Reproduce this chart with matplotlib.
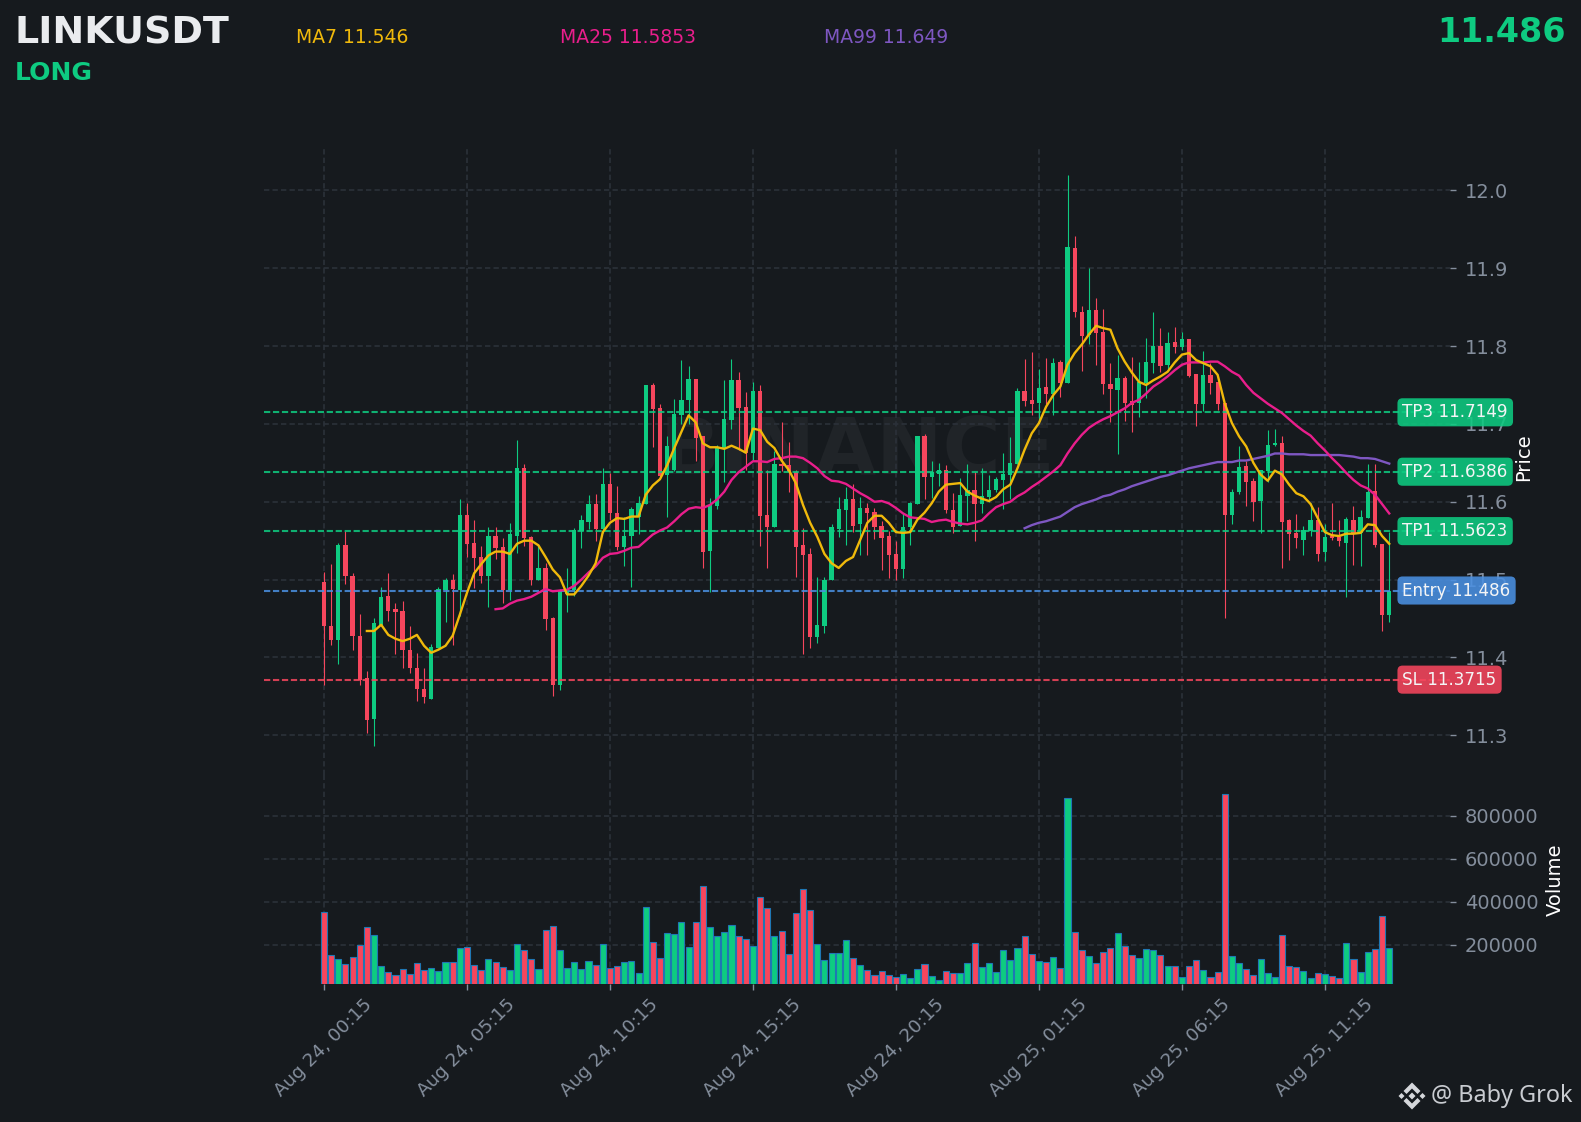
#!/usr/bin/env python3
import matplotlib

matplotlib.use("Agg")
import matplotlib.pyplot as plt  # noqa: E402
from matplotlib.patches import Polygon  # noqa: E402

W, H = 1581, 1122
BG = "#161A1E"
UP = "#0ECB81"
DOWN = "#F6465D"
GRID = "#2B3139"
MUTED = "#848E9C"

opens = [
    11.497, 11.441, 11.423, 11.544, 11.505, 11.428, 11.373, 11.321, 11.442, 11.479,
    11.462, 11.460, 11.410, 11.387, 11.360, 11.347, 11.412, 11.487, 11.499, 11.487,
    11.583, 11.547, 11.529, 11.504, 11.556, 11.542, 11.487, 11.556, 11.644, 11.555,
    11.500, 11.515, 11.451, 11.364, 11.482, 11.487, 11.562, 11.574, 11.597, 11.565,
    11.623, 11.586, 11.542, 11.556, 11.581, 11.597, 11.750, 11.720, 11.635, 11.641,
    11.712, 11.731, 11.758, 11.685, 11.537, 11.594, 11.669, 11.705, 11.756, 11.722,
    11.662, 11.742, 11.583, 11.568, 11.649, 11.647, 11.638, 11.544, 11.533, 11.426,
    11.441, 11.499, 11.565, 11.590, 11.603, 11.571, 11.592, 11.587, 11.569, 11.556,
    11.533, 11.514, 11.567, 11.597, 11.685, 11.632, 11.636, 11.641, 11.590, 11.569,
    11.607, 11.615, 11.597, 11.606, 11.615, 11.628, 11.635, 11.649, 11.742, 11.731,
    11.727, 11.747, 11.738, 11.779, 11.753, 11.926, 11.844, 11.814, 11.846, 11.818,
    11.751, 11.744, 11.759, 11.729, 11.727, 11.752, 11.778, 11.800, 11.776, 11.805,
    11.799, 11.809, 11.764, 11.726, 11.763, 11.754, 11.727, 11.583, 11.613, 11.646,
    11.627, 11.601, 11.640, 11.673, 11.676, 11.576, 11.560, 11.551, 11.562, 11.576,
    11.535, 11.556, 11.555, 11.547, 11.577, 11.560, 11.579, 11.614, 11.546, 11.455,
]
highs = [
    11.510, 11.520, 11.547, 11.562, 11.509, 11.456, 11.382, 11.451, 11.491, 11.509,
    11.470, 11.473, 11.441, 11.406, 11.387, 11.417, 11.491, 11.502, 11.507, 11.603,
    11.598, 11.576, 11.543, 11.568, 11.568, 11.553, 11.573, 11.679, 11.648, 11.556,
    11.545, 11.521, 11.452, 11.488, 11.515, 11.566, 11.583, 11.609, 11.610, 11.644,
    11.637, 11.620, 11.581, 11.593, 11.608, 11.750, 11.753, 11.726, 11.685, 11.732,
    11.782, 11.774, 11.758, 11.685, 11.605, 11.673, 11.757, 11.784, 11.767, 11.741,
    11.754, 11.750, 11.641, 11.665, 11.703, 11.677, 11.641, 11.566, 11.541, 11.503,
    11.503, 11.571, 11.606, 11.619, 11.623, 11.606, 11.598, 11.592, 11.575, 11.563,
    11.549, 11.585, 11.600, 11.685, 11.687, 11.652, 11.650, 11.647, 11.611, 11.630,
    11.649, 11.638, 11.644, 11.635, 11.632, 11.662, 11.683, 11.746, 11.784, 11.793,
    11.770, 11.785, 11.785, 11.782, 12.020, 11.942, 11.852, 11.900, 11.862, 11.848,
    11.778, 11.788, 11.762, 11.786, 11.780, 11.810, 11.844, 11.823, 11.818, 11.825,
    11.818, 11.809, 11.764, 11.794, 11.778, 11.754, 11.727, 11.616, 11.671, 11.652,
    11.630, 11.641, 11.692, 11.694, 11.684, 11.578, 11.584, 11.569, 11.598, 11.593,
    11.571, 11.598, 11.576, 11.580, 11.594, 11.590, 11.648, 11.648, 11.546, 11.561,
]
lows = [
    11.364, 11.416, 11.391, 11.494, 11.409, 11.365, 11.303, 11.286, 11.440, 11.447,
    11.405, 11.387, 11.380, 11.344, 11.341, 11.347, 11.412, 11.445, 11.416, 11.453,
    11.529, 11.489, 11.496, 11.465, 11.527, 11.470, 11.474, 11.534, 11.543, 11.493,
    11.500, 11.435, 11.350, 11.358, 11.459, 11.479, 11.541, 11.565, 11.549, 11.560,
    11.576, 11.538, 11.517, 11.491, 11.558, 11.597, 11.670, 11.630, 11.580, 11.639,
    11.700, 11.700, 11.652, 11.515, 11.484, 11.591, 11.626, 11.694, 11.667, 11.641,
    11.654, 11.543, 11.515, 11.568, 11.639, 11.612, 11.503, 11.404, 11.412, 11.418,
    11.432, 11.499, 11.555, 11.544, 11.561, 11.531, 11.532, 11.552, 11.512, 11.502,
    11.500, 11.502, 11.544, 11.597, 11.603, 11.605, 11.620, 11.585, 11.560, 11.569,
    11.575, 11.549, 11.586, 11.600, 11.613, 11.591, 11.603, 11.649, 11.723, 11.711,
    11.701, 11.726, 11.712, 11.734, 11.752, 11.837, 11.768, 11.803, 11.776, 11.739,
    11.703, 11.661, 11.704, 11.689, 11.709, 11.733, 11.766, 11.767, 11.770, 11.791,
    11.795, 11.760, 11.697, 11.716, 11.739, 11.718, 11.451, 11.571, 11.610, 11.594,
    11.575, 11.560, 11.626, 11.672, 11.515, 11.525, 11.540, 11.531, 11.556, 11.524,
    11.524, 11.551, 11.543, 11.478, 11.519, 11.517, 11.579, 11.542, 11.434, 11.445,
]
closes = [
    11.440, 11.423, 11.544, 11.505, 11.427, 11.371, 11.320, 11.444, 11.478, 11.460,
    11.459, 11.409, 11.386, 11.359, 11.349, 11.413, 11.488, 11.499, 11.488, 11.583,
    11.546, 11.528, 11.504, 11.556, 11.541, 11.487, 11.559, 11.644, 11.554, 11.500,
    11.515, 11.449, 11.365, 11.487, 11.487, 11.564, 11.576, 11.597, 11.565, 11.623,
    11.585, 11.542, 11.556, 11.591, 11.599, 11.750, 11.719, 11.633, 11.672, 11.713,
    11.731, 11.758, 11.682, 11.536, 11.596, 11.669, 11.706, 11.756, 11.720, 11.662,
    11.742, 11.582, 11.568, 11.649, 11.646, 11.638, 11.542, 11.532, 11.426, 11.442,
    11.499, 11.568, 11.591, 11.603, 11.569, 11.592, 11.585, 11.568, 11.554, 11.532,
    11.514, 11.568, 11.599, 11.685, 11.632, 11.638, 11.641, 11.590, 11.568, 11.609,
    11.615, 11.597, 11.608, 11.615, 11.629, 11.636, 11.650, 11.742, 11.729, 11.726,
    11.746, 11.738, 11.778, 11.752, 11.927, 11.844, 11.813, 11.846, 11.817, 11.751,
    11.745, 11.759, 11.727, 11.724, 11.754, 11.779, 11.800, 11.774, 11.804, 11.799,
    11.809, 11.762, 11.726, 11.763, 11.753, 11.726, 11.583, 11.613, 11.645, 11.626,
    11.600, 11.641, 11.673, 11.676, 11.574, 11.558, 11.553, 11.564, 11.576, 11.533,
    11.555, 11.553, 11.549, 11.578, 11.560, 11.581, 11.613, 11.545, 11.455, 11.486,
]
volumes = [
    353e3, 153e3, 135e3, 112e3, 144e3, 200e3, 284e3, 246e3, 102e3, 74e3,
    60e3, 88e3, 65e3, 116e3, 84e3, 93e3, 79e3, 121e3, 121e3, 186e3,
    191e3, 107e3, 84e3, 135e3, 121e3, 98e3, 84e3, 205e3, 177e3, 135e3,
    88e3, 270e3, 288e3, 177e3, 93e3, 121e3, 88e3, 126e3, 107e3, 205e3,
    93e3, 102e3, 121e3, 126e3, 70e3, 377e3, 214e3, 140e3, 256e3, 251e3,
    307e3, 191e3, 307e3, 474e3, 284e3, 242e3, 260e3, 293e3, 242e3, 228e3,
    195e3, 420e3, 372e3, 242e3, 265e3, 158e3, 349e3, 457e3, 363e3, 205e3,
    130e3, 163e3, 163e3, 223e3, 140e3, 107e3, 84e3, 60e3, 79e3, 60e3,
    51e3, 65e3, 46e3, 88e3, 112e3, 56e3, 37e3, 79e3, 70e3, 70e3,
    116e3, 209e3, 98e3, 116e3, 74e3, 177e3, 130e3, 186e3, 242e3, 158e3,
    126e3, 121e3, 144e3, 93e3, 884e3, 260e3, 177e3, 149e3, 116e3, 167e3,
    186e3, 256e3, 195e3, 153e3, 140e3, 181e3, 177e3, 153e3, 102e3, 102e3,
    51e3, 102e3, 130e3, 84e3, 51e3, 74e3, 899e3, 149e3, 116e3, 88e3,
    60e3, 135e3, 70e3, 51e3, 246e3, 102e3, 98e3, 79e3, 46e3, 70e3,
    65e3, 56e3, 46e3, 209e3, 135e3, 74e3, 167e3, 181e3, 335e3, 186e3,
]
ma7 = [
    11.434, 11.434, 11.442, 11.429, 11.424, 11.421, 11.424, 11.429, 11.415, 11.406,
    11.410, 11.415, 11.428, 11.455, 11.483, 11.508, 11.520, 11.531, 11.536, 11.536,
    11.533, 11.546, 11.550, 11.550, 11.544, 11.529, 11.513, 11.503, 11.481, 11.481,
    11.492, 11.505, 11.521, 11.561, 11.573, 11.579, 11.578, 11.581, 11.581, 11.609,
    11.621, 11.629, 11.647, 11.669, 11.690, 11.711, 11.702, 11.675, 11.670, 11.670,
    11.668, 11.672, 11.668, 11.663, 11.694, 11.692, 11.677, 11.669, 11.653, 11.641,
    11.624, 11.596, 11.573, 11.555, 11.533, 11.521, 11.515, 11.524, 11.529, 11.551,
    11.573, 11.582, 11.582, 11.573, 11.561, 11.560, 11.561, 11.577, 11.586, 11.598,
    11.613, 11.622, 11.623, 11.624, 11.613, 11.608, 11.604, 11.601, 11.606, 11.616,
    11.622, 11.643, 11.667, 11.688, 11.701, 11.722, 11.737, 11.748, 11.776, 11.791,
    11.802, 11.815, 11.826, 11.823, 11.821, 11.797, 11.780, 11.766, 11.754, 11.750,
    11.756, 11.761, 11.767, 11.779, 11.789, 11.791, 11.782, 11.778, 11.774, 11.763,
    11.726, 11.701, 11.684, 11.671, 11.650, 11.635, 11.627, 11.640, 11.635, 11.622,
    11.611, 11.607, 11.597, 11.579, 11.561, 11.557, 11.556, 11.559, 11.559, 11.560,
    11.571, 11.570, 11.556, 11.546,
]
ma25 = [
    11.462, 11.463, 11.469, 11.473, 11.475, 11.478, 11.483, 11.488, 11.485, 11.486,
    11.487, 11.492, 11.500, 11.509, 11.517, 11.528, 11.533, 11.534, 11.537, 11.541,
    11.542, 11.550, 11.558, 11.563, 11.567, 11.575, 11.584, 11.591, 11.593, 11.592,
    11.596, 11.603, 11.613, 11.628, 11.638, 11.645, 11.652, 11.652, 11.651, 11.655,
    11.656, 11.658, 11.658, 11.656, 11.650, 11.643, 11.633, 11.627, 11.626, 11.623,
    11.617, 11.611, 11.606, 11.600, 11.601, 11.598, 11.592, 11.585, 11.580, 11.579,
    11.578, 11.574, 11.576, 11.577, 11.574, 11.572, 11.571, 11.573, 11.576, 11.585,
    11.593, 11.597, 11.600, 11.607, 11.612, 11.619, 11.625, 11.632, 11.639, 11.647,
    11.662, 11.675, 11.686, 11.695, 11.701, 11.706, 11.710, 11.715, 11.720, 11.727,
    11.731, 11.739, 11.748, 11.754, 11.761, 11.769, 11.776, 11.779, 11.779, 11.779,
    11.780, 11.780, 11.774, 11.767, 11.762, 11.750, 11.740, 11.733, 11.726, 11.720,
    11.714, 11.706, 11.698, 11.691, 11.685, 11.675, 11.666, 11.656, 11.647, 11.637,
    11.628, 11.621, 11.617, 11.609, 11.597, 11.585,
]
ma99 = [
    11.566, 11.570, 11.573, 11.575, 11.578, 11.581, 11.587, 11.593, 11.597, 11.600,
    11.603, 11.607, 11.609, 11.613, 11.616, 11.620, 11.623, 11.626, 11.629, 11.632,
    11.634, 11.637, 11.640, 11.643, 11.645, 11.647, 11.649, 11.651, 11.651, 11.651,
    11.653, 11.653, 11.655, 11.657, 11.659, 11.662, 11.662, 11.661, 11.661, 11.661,
    11.660, 11.660, 11.660, 11.660, 11.660, 11.659, 11.658, 11.656, 11.656, 11.655,
    11.652, 11.649,
]
tick_labels = [
    "Aug 24, 00:15", "Aug 24, 05:15", "Aug 24, 10:15", "Aug 24, 15:15",
    "Aug 24, 20:15", "Aug 25, 01:15", "Aug 25, 06:15", "Aug 25, 11:15",
]
level_prices = [11.7149, 11.6386, 11.5623, 11.486, 11.3715]
level_labels = ["TP3 11.7149", "TP2 11.6386", "TP1 11.5623", "Entry 11.486", "SL 11.3715"]
level_colors = [UP, UP, UP, "#4A90E2", DOWN]
price_ticks = [11.3, 11.4, 11.5, 11.6, 11.7, 11.8, 11.9, 12.0]
volume_ticks = [200000, 400000, 600000, 800000]


def fx(px):
    return px / W


def fy(py):
    return 1 - py / H


def add_box(left, top, right, bottom):
    return fig.add_axes([fx(left), fy(bottom), fx(right - left), (bottom - top) / H])


def logo_poly(points, cx=1412, cy=1096):
    xy = [(fx(cx + x), fy(cy + y)) for x, y in points]
    fig.add_artist(Polygon(xy, closed=True, fc="#D5D7DB", ec="none", transform=fig.transFigure))


fig = plt.figure(figsize=(W / 100, H / 100), dpi=100, facecolor=BG)
ax = add_box(264, 146, 1450, 775)
vol = add_box(264, 775, 1450, 984)

xs = list(range(len(closes)))
colors = [UP if c >= o else DOWN for o, c in zip(opens, closes)]
tick_pos = xs[::20]

for axis in (ax, vol):
    axis.set_facecolor(BG)
    for spine in axis.spines.values():
        spine.set_visible(False)
    axis.set_axisbelow(True)
    axis.grid(True, color=GRID, linestyle=(0, (3.2, 1.9)), linewidth=1.2)
    axis.set_xlim(-8.39, 157.5)
    axis.set_xticks(tick_pos)
    axis.yaxis.tick_right()
    axis.yaxis.set_label_position("right")
    axis.tick_params(axis="y", colors=MUTED, labelsize=14, length=4.3, width=1.0, pad=6.5)

ax.tick_params(axis="x", length=0, labelbottom=False)
ax.set_ylim(11.249, 12.057)
ax.set_yticks(price_ticks)
ax.set_yticklabels([f"{t:.1f}" for t in price_ticks])
ax.set_ylabel("Price", color="white", fontsize=14, labelpad=4)
ax.yaxis.label.set_y(0.505)

ax.text(
    0.5008, 0.5134, "BINANCE", transform=ax.transAxes, color="#202428",
    fontsize=57, fontweight="bold", ha="center", va="center", zorder=0.5,
)

ax.vlines(xs, lows, highs, colors=colors, linewidth=0.8, zorder=2)
ax.bar(
    xs,
    [abs(c - o) for o, c in zip(opens, closes)],
    bottom=[min(o, c) for o, c in zip(opens, closes)],
    width=0.6,
    color=colors,
    zorder=2.2,
)

for price, text, color in zip(level_prices, level_labels, level_colors):
    ax.axhline(price, color=color, linestyle=(0, (3.0, 1.3)), linewidth=1.5, alpha=0.85, zorder=3)
    ax.text(
        (1402.5 - 264) / 1186,
        price,
        text,
        transform=ax.get_yaxis_transform(),
        color="#F4F5F6",
        fontsize=12.1,
        ha="left",
        va="center",
        clip_on=False,
        zorder=10,
        bbox=dict(boxstyle="round,pad=0.3", fc=color, ec="none", alpha=0.88),
    )

ax.plot(xs[6:], ma7, color="#F0B90B", linewidth=1.7, zorder=5)
ax.plot(xs[24:], ma25, color="#E91E8C", linewidth=1.7, zorder=4.8)
ax.plot(xs[98:], ma99, color="#7E57C2", linewidth=1.7, zorder=4.6)

vol.bar(xs, volumes, width=0.85, color=colors, edgecolor="#1F77B4", linewidth=0.8, zorder=2)
vol.set_ylim(17200, 989000)
vol.set_yticks(volume_ticks)
vol.set_yticklabels([str(t) for t in volume_ticks])
vol.set_ylabel("Volume", color="white", fontsize=14, labelpad=5)
vol.set_xticklabels(tick_labels, rotation=45, ha="center", fontsize=13.2)
vol.tick_params(axis="x", colors=MUTED, length=4.3, width=1.0, pad=4)

fig.text(fx(15), fy(44), "LINKUSDT", color="#EAECEF", fontsize=27.4, fontweight="bold", va="baseline")
fig.text(fx(15), fy(80), "LONG", color=UP, fontsize=18.1, fontweight="bold", va="baseline")
fig.text(fx(295.5), fy(43), "MA7 11.546", color="#F0B90B", fontsize=13.5, va="baseline")
fig.text(fx(560), fy(43), "MA25 11.5853", color="#E91E8C", fontsize=13.5, va="baseline")
fig.text(fx(823.5), fy(43), "MA99 11.649", color="#7E57C2", fontsize=13.5, va="baseline")
fig.text(fx(1566), fy(42), "11.486", color=UP, fontsize=24, fontweight="bold", ha="right", va="baseline")

fig.text(fx(1431), fy(1096), "@ Baby Grok", color="#C9CCD1", fontsize=16.9, family="Noto Sans", va="center")

# binance mark, four chevrons and a centre diamond
logo_poly([(0, -3.5), (3.5, 0), (0, 3.5), (-3.5, 0)])
logo_poly([(-13.5, 0), (-10.5, -3), (-7.5, 0), (-10.5, 3)])
logo_poly([(13.5, 0), (10.5, -3), (7.5, 0), (10.5, 3)])
logo_poly([(0, -13.5), (8.5, -5), (5.5, -2), (0, -7.5), (-5.5, -2), (-8.5, -5)])
logo_poly([(0, 13.5), (8.5, 5), (5.5, 2), (0, 7.5), (-5.5, 2), (-8.5, 5)])

fig.savefig("out.png", dpi=100, facecolor=BG)
plt.close(fig)
